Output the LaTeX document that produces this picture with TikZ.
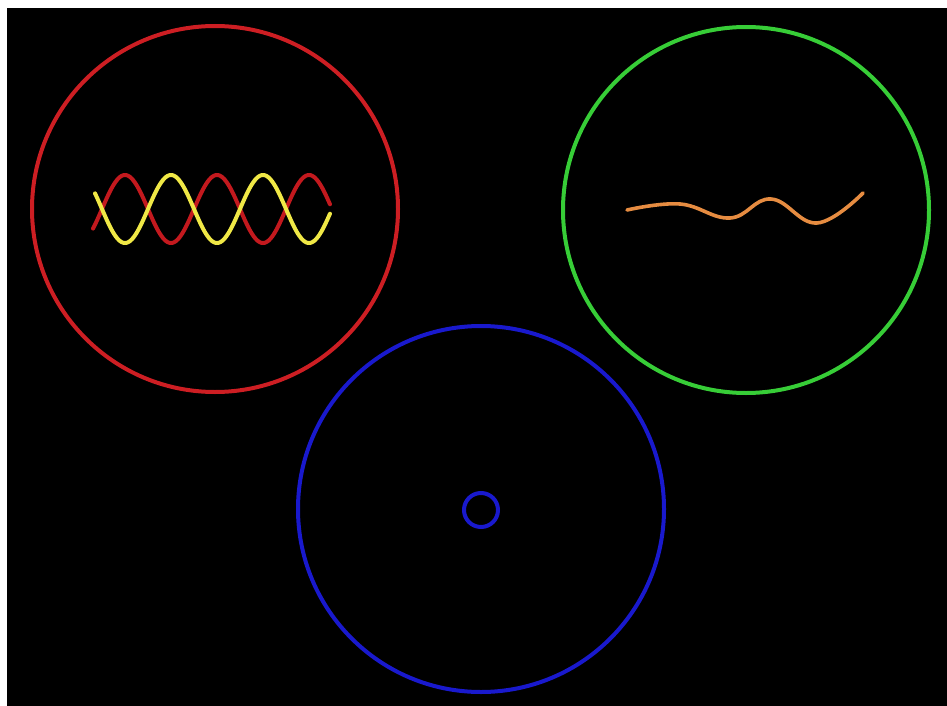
\documentclass[tikz,border=0pt]{standalone}
\begin{document}
\begin{tikzpicture}[x=1pt,y=-1pt]
\definecolor{cred}{RGB}{205,30,35}
\definecolor{sred}{RGB}{195,25,30}
\definecolor{syel}{RGB}{240,232,70}
\definecolor{cgreen}{RGB}{55,205,55}
\definecolor{corange}{RGB}{230,140,65}
\definecolor{cblue}{RGB}{25,25,205}
\tikzset{ring/.style={line width=4pt},
  wave/.style={line width=4pt,line cap=round}}
\useasboundingbox (0,0) rectangle (947,706);
\fill[white] (0,0) rectangle (947,706);
\fill[black] (7,8) rectangle (947,706);
% red circle with two sines
\draw[ring,cred] (215,209) circle (183);
\draw[wave,sred,domain=93:330,samples=160,smooth] plot (\x,{209-34*cos(3.913*(\x-125))});
\draw[wave,syel,domain=95:330,samples=160,smooth] plot (\x,{209+34*cos(3.913*(\x-125))});
% green circle with orange wiggle
\draw[ring,cgreen] (746,210) circle (183);
\draw[wave,corange,line width=3.6pt] plot[smooth,tension=0.7] coordinates {(627,210) (680,204) (730,218) (771,199) (817,223) (863,193)};
% blue circles
\draw[ring,cblue] (481,509) circle (183);
\draw[ring,cblue] (481,510) circle (17);
\end{tikzpicture}
\end{document}
